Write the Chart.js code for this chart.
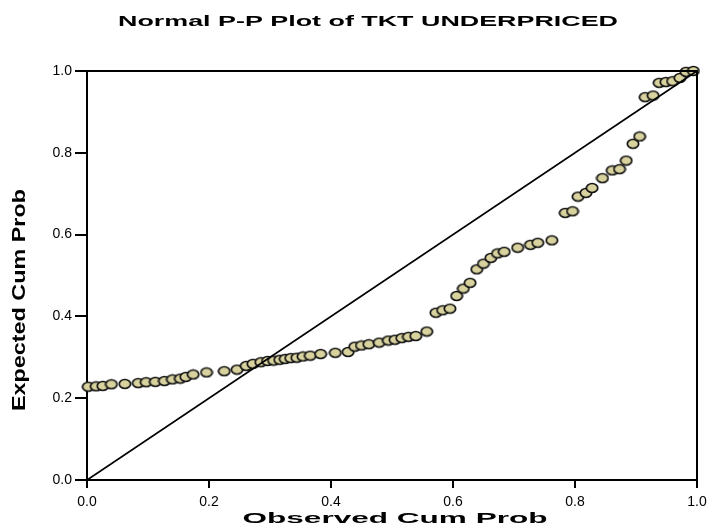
<!DOCTYPE html>
<html>
<head>
<meta charset="utf-8">
<script src="https://cdn.jsdelivr.net/npm/chart.js@4.4.1/dist/chart.umd.min.js"></script>
<style>
  html, body { margin: 0; padding: 0; background: #fff; }
  #wrap { width: 714px; height: 529px; }
</style>
</head>
<body>
<div id="wrap"><canvas id="pp"></canvas></div>
<script>
// ---- data ----
const chartTitle = 'Normal P-P Plot of TKT UNDERPRICED';
const xTitle = 'Observed Cum Prob';
const yTitle = 'Expected Cum Prob';

const observedCum = [
  0.002, 0.015, 0.026, 0.040, 0.062, 0.084, 0.097, 0.112, 0.127, 0.140,
  0.153, 0.162, 0.174, 0.196, 0.225, 0.246, 0.261, 0.272, 0.285, 0.296,
  0.306, 0.316, 0.325, 0.334, 0.344, 0.354, 0.366, 0.383, 0.407, 0.428,
  0.439, 0.450, 0.462, 0.479, 0.494, 0.505, 0.516, 0.527, 0.539, 0.557,
  0.572, 0.583, 0.595, 0.606, 0.617, 0.628, 0.639, 0.650, 0.662, 0.673,
  0.684, 0.706, 0.727, 0.739, 0.762, 0.784, 0.796, 0.805, 0.818, 0.828,
  0.845, 0.861, 0.873, 0.884, 0.895, 0.906, 0.915, 0.928, 0.938, 0.949,
  0.960, 0.972, 0.982, 0.994
];
const expectedCum = [
  0.228, 0.229, 0.230, 0.234, 0.235, 0.237, 0.239, 0.240, 0.242, 0.246,
  0.248, 0.252, 0.258, 0.263, 0.266, 0.270, 0.279, 0.284, 0.288, 0.291,
  0.292, 0.294, 0.296, 0.298, 0.299, 0.302, 0.304, 0.308, 0.311, 0.313,
  0.326, 0.329, 0.332, 0.336, 0.341, 0.343, 0.347, 0.350, 0.352, 0.363,
  0.409, 0.415, 0.419, 0.450, 0.468, 0.482, 0.515, 0.529, 0.543, 0.554,
  0.558, 0.568, 0.575, 0.580, 0.586, 0.653, 0.657, 0.693, 0.702, 0.714,
  0.738, 0.757, 0.760, 0.781, 0.822, 0.840, 0.936, 0.940, 0.971, 0.973,
  0.975, 0.983, 0.998, 1.000
];
const diagonalX = [0, 1];
const diagonalY = [0, 1];
const xTicks = [0, 0.2, 0.4, 0.6, 0.8, 1.0];
const yTicks = [0, 0.2, 0.4, 0.6, 0.8, 1.0];

// ---- point marker (slightly wide ellipse like the original) ----
function makeMarker() {
  const c = document.createElement('canvas');
  c.width = 14; c.height = 12;
  const g = c.getContext('2d');
  g.beginPath();
  g.ellipse(7, 6, 5.7, 4.5, 0, 0, Math.PI * 2);
  g.fillStyle = '#d8d29f';
  g.fill();
  g.lineWidth = 1.7;
  g.strokeStyle = '#111';
  g.stroke();
  return c;
}

function stretchedText(ctx, text, x, y, px, width, angle) {
  ctx.save();
  ctx.font = 'bold ' + px + 'px "Liberation Sans", Arial, sans-serif';
  const w = ctx.measureText(text).width;
  ctx.translate(x, y);
  ctx.rotate(angle);
  ctx.scale(width / w, 1);
  ctx.textAlign = 'center';
  ctx.textBaseline = 'middle';
  ctx.fillStyle = '#000';
  ctx.fillText(text, 0, 0);
  ctx.restore();
}

const frameAndTitles = {
  id: 'frameAndTitles',
  afterDatasetsDraw(chart) {
    const ctx = chart.ctx;
    const a = chart.chartArea;
    ctx.save();
    ctx.strokeStyle = '#000';
    ctx.lineWidth = 2;
    ctx.beginPath();
    ctx.moveTo(a.left, a.top);
    ctx.lineTo(a.right, a.top);
    ctx.lineTo(a.right, a.bottom);
    ctx.stroke();
    ctx.restore();
  },
  afterDraw(chart) {
    const ctx = chart.ctx;
    const a = chart.chartArea;
    stretchedText(ctx, chartTitle, 368, 22, 14, 500, 0);
    stretchedText(ctx, xTitle, (a.left + a.right) / 2 + 3, 519, 15, 305, 0);
    stretchedText(ctx, yTitle, 20, 300, 18, 222, -Math.PI / 2);
  }
};

const lineData = diagonalX.map((x, i) => ({ x: x, y: diagonalY[i] }));
const pointData = observedCum.map((x, i) => ({ x: x, y: expectedCum[i] }));

const tickFont = { family: '"Liberation Sans", Arial, sans-serif', size: 14 };

new Chart(document.getElementById('pp'), {
  type: 'scatter',
  data: {
    datasets: [
      {
        type: 'line',
        data: lineData,
        borderColor: '#000',
        borderWidth: 1.8,
        pointRadius: 0,
        fill: false,
        order: 0
      },
      {
        data: pointData,
        pointStyle: makeMarker(),
        pointRadius: 6,
        clip: false,
        order: 1
      }
    ]
  },
  options: {
    responsive: true,
    maintainAspectRatio: false,
    animation: false,
    events: [],
    layout: { padding: { top: 71, right: 17, left: 0, bottom: 0 } },
    plugins: { legend: { display: false }, title: { display: false }, tooltip: { enabled: false } },
    scales: {
      x: {
        type: 'linear',
        min: 0, max: 1,
        afterFit(s) { s.height = 49; },
        afterBuildTicks(s) { s.ticks = xTicks.map(v => ({ value: v })); },
        border: { display: true, color: '#000', width: 2 },
        grid: { drawOnChartArea: false, drawTicks: true, tickLength: 8, color: '#000', lineWidth: 2 },
        ticks: { color: '#000', font: tickFont, padding: 6, maxRotation: 0,
                 callback: v => Number(v).toFixed(1) }
      },
      y: {
        type: 'linear',
        min: 0, max: 1,
        afterFit(s) { s.width = 87; },
        afterBuildTicks(s) { s.ticks = yTicks.map(v => ({ value: v })); },
        border: { display: true, color: '#000', width: 2 },
        grid: { drawOnChartArea: false, drawTicks: true, tickLength: 12, color: '#000', lineWidth: 2 },
        ticks: { color: '#000', font: tickFont, padding: 3,
                 callback: v => Number(v).toFixed(1) }
      }
    }
  },
  plugins: [frameAndTitles]
});
</script>
</body>
</html>
